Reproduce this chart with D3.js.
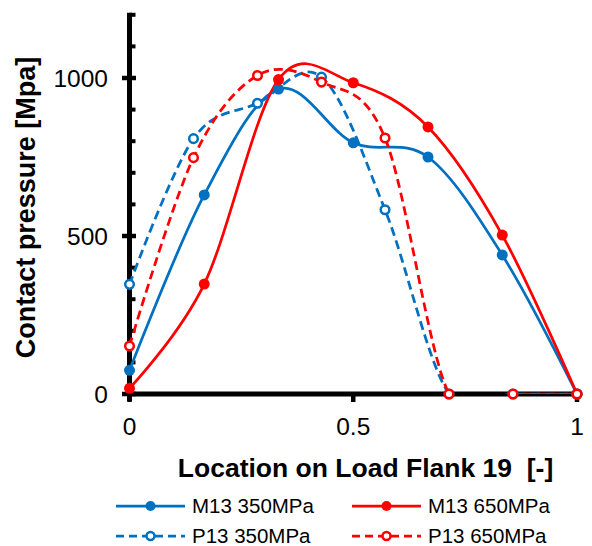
<!DOCTYPE html>
<html>
<head>
<meta charset="utf-8">
<script src="https://cdn.jsdelivr.net/npm/d3@7"></script>
<style>
  body { margin: 0; background: #fff; }
  text { font-family: "Liberation Sans", Arial, sans-serif; fill: #000; }
</style>
</head>
<body>
<div id="chart"></div>
<script>
const width = 592;
const height = 546;

// x positions of the two measurement sets
const xM = [0, 0.167, 0.333, 0.5, 0.667, 0.833, 1];
const xP = [0, 0.143, 0.286, 0.429, 0.571, 0.714, 0.857, 1];

// contact pressure values
const m13_350 = [75, 630, 965, 795, 750, 440, 0];
const m13_650 = [18, 348, 995, 985, 845, 503, 0];
const p13_350 = [347, 808, 920, 1003, 583, 0, 0, 0];
const p13_650 = [152, 748, 1008, 987, 810, 0, 0, 0];

const seriesNames = ["M13 350MPa", "M13 650MPa", "P13 350MPa", "P13 650MPa"];
const xTicks = [0, 0.5, 1];
const yTicks = [0, 500, 1000];
const yMinorTicks = d3.range(0, 1201, 100);

const blue = "#0070C0";
const red = "#FF0000";

const series = [
    { name: seriesNames[0], xs: xM, ys: m13_350, color: blue, dashed: false },
    { name: seriesNames[1], xs: xM, ys: m13_650, color: red, dashed: false },
    { name: seriesNames[2], xs: xP, ys: p13_350, color: blue, dashed: true },
    { name: seriesNames[3], xs: xP, ys: p13_650, color: red, dashed: true }
];

const xScale = d3.scaleLinear().domain([0, 1]).range([129.5, 577]);
const yScale = d3.scaleLinear().domain([0, 1200]).range([394, 14.8]);

const svg = d3.select("#chart")
    .append("svg")
    .attr("width", width)
    .attr("height", height);

// clip lines to the plot area like Excel does
svg.append("clipPath")
    .attr("id", "plotClip")
    .append("rect")
    .attr("x", xScale(0))
    .attr("y", yScale(1200))
    .attr("width", xScale(1) - xScale(0))
    .attr("height", yScale(0) - yScale(1200));

const line = d3.line()
    .x(d => xScale(d[0]))
    .y(d => yScale(d[1]))
    .curve(d3.curveCardinal.tension(0));

// Axes (thick black lines)
const axisG = svg.append("g");

// y axis minor ticks (inside)
axisG.selectAll("line.ymin")
    .data(yMinorTicks)
    .join("line")
    .attr("x1", xScale(0))
    .attr("x2", xScale(0) + 6)
    .attr("y1", d => yScale(d))
    .attr("y2", d => yScale(d))
    .attr("stroke", "#000")
    .attr("stroke-width", 4);

// y axis major ticks (cross)
axisG.selectAll("line.ymaj")
    .data(yTicks)
    .join("line")
    .attr("x1", xScale(0) - 7.5)
    .attr("x2", xScale(0) + 6.5)
    .attr("y1", d => yScale(d))
    .attr("y2", d => yScale(d))
    .attr("stroke", "#000")
    .attr("stroke-width", 4.5);

// x axis ticks (outside)
axisG.selectAll("line.xt")
    .data(xTicks)
    .join("line")
    .attr("x1", d => xScale(d))
    .attr("x2", d => xScale(d))
    .attr("y1", yScale(0))
    .attr("y2", yScale(0) + 8)
    .attr("stroke", "#000")
    .attr("stroke-width", 4.5);

axisG.append("line")
    .attr("x1", xScale(0))
    .attr("x2", xScale(0))
    .attr("y1", yScale(1200) - 2)
    .attr("y2", yScale(0) + 7)
    .attr("stroke", "#000")
    .attr("stroke-width", 5);

axisG.append("line")
    .attr("x1", xScale(0) - 2)
    .attr("x2", xScale(1) + 1)
    .attr("y1", yScale(0))
    .attr("y2", yScale(0))
    .attr("stroke", "#000")
    .attr("stroke-width", 5);

// tick labels
svg.append("g")
    .selectAll("text")
    .data(yTicks)
    .join("text")
    .attr("x", 108)
    .attr("y", d => yScale(d))
    .attr("dy", "0.35em")
    .attr("text-anchor", "end")
    .style("font-size", "24.5px")
    .text(d => d);

svg.append("g")
    .selectAll("text")
    .data(xTicks)
    .join("text")
    .attr("x", d => xScale(d))
    .attr("y", 435)
    .attr("text-anchor", "middle")
    .style("font-size", "24.5px")
    .text(d => d);

// axis titles
svg.append("text")
    .attr("transform", "translate(35,207.5) rotate(-90)")
    .attr("text-anchor", "middle")
    .style("font-size", "27px")
    .style("font-weight", "bold")
    .text("Contact pressure [Mpa]");

svg.append("text")
    .attr("x", 365.5)
    .attr("y", 477)
    .attr("text-anchor", "middle")
    .style("font-size", "26.5px")
    .style("font-weight", "bold")
    .style("white-space", "pre")
    .attr("xml:space", "preserve")
    .text("Location on Load Flank 19  [-]");

// Series lines
const plotG = svg.append("g");
series.forEach(s => {
    const pts = s.xs.map((x, i) => [x, s.ys[i]]);
    plotG.append("path")
        .datum(pts)
        .attr("clip-path", "url(#plotClip)")
        .attr("d", line)
        .attr("fill", "none")
        .attr("stroke", s.color)
        .attr("stroke-width", 2.75)
        .attr("stroke-dasharray", s.dashed ? "9,5" : null);
});

// Series markers
series.forEach(s => {
    const pts = s.xs.map((x, i) => [x, s.ys[i]]);
    plotG.append("g")
        .selectAll("circle")
        .data(pts)
        .join("circle")
        .attr("cx", d => xScale(d[0]))
        .attr("cy", d => yScale(d[1]))
        .attr("r", s.dashed ? 4.3 : 5.5)
        .attr("fill", s.dashed ? "#fff" : s.color)
        .attr("stroke", s.color)
        .attr("stroke-width", s.dashed ? 2.5 : 0);
});

// Legend
const legendPos = [
    { x: 116, y: 506 },
    { x: 352, y: 506 },
    { x: 116, y: 536 },
    { x: 352, y: 536 }
];
const legend = svg.append("g");
series.forEach((s, i) => {
    const p = legendPos[i];
    const g = legend.append("g").attr("transform", `translate(${p.x},${p.y})`);
    g.append("line")
        .attr("x1", 0)
        .attr("x2", 69)
        .attr("y1", 0)
        .attr("y2", 0)
        .attr("stroke", s.color)
        .attr("stroke-width", 2.75)
        .attr("stroke-dasharray", s.dashed ? "8,5" : null);
    g.append("circle")
        .attr("cx", 34.5)
        .attr("cy", 0)
        .attr("r", s.dashed ? 4 : 5)
        .attr("fill", s.dashed ? "#fff" : s.color)
        .attr("stroke", s.color)
        .attr("stroke-width", s.dashed ? 2.5 : 0);
    g.append("text")
        .attr("x", 76)
        .attr("y", 0)
        .attr("dy", "0.35em")
        .style("font-size", "20.5px")
        .text(s.name);
});
</script>
</body>
</html>
